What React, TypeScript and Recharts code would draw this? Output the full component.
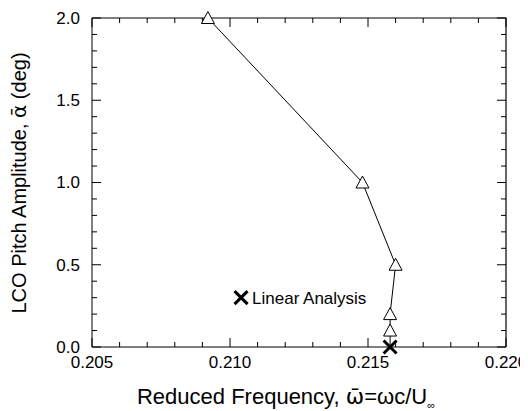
import React from 'react';
import { ComposedChart, Scatter, XAxis, YAxis } from 'recharts';

const lcoFreq = [0.2092, 0.2148, 0.216, 0.2158, 0.2158];
const lcoAmp = [2.0, 1.0, 0.5, 0.2, 0.1];
const linearFreq = [0.2158];
const linearAmp = [0.0];
const legendFreq = [0.2104];
const legendAmp = [0.3];
const legendText = 'Linear Analysis';

const X_MIN = 0.205;
const X_MAX = 0.22;
const Y_MIN = 0;
const Y_MAX = 2;
const xMajorTicks = [0.205, 0.21, 0.215, 0.22];
const xAllTicks = [0.205, 0.206, 0.207, 0.208, 0.209, 0.21, 0.211, 0.212, 0.213, 0.214, 0.215, 0.216, 0.217, 0.218, 0.219, 0.22];
const yMajorTicks = [0, 0.5, 1.0, 1.5, 2.0];
const yAllTicks = [0, 0.1, 0.2, 0.3, 0.4, 0.5, 0.6, 0.7, 0.8, 0.9, 1.0, 1.1, 1.2, 1.3, 1.4, 1.5, 1.6, 1.7, 1.8, 1.9, 2.0];

const FONT = '"Liberation Sans", Arial, Helvetica, sans-serif';
const MARK_FONT = '"DejaVu Sans", sans-serif';

const triangleData = lcoFreq.map((f, i) => ({ x: f, y: lcoAmp[i] }));
const linearData = linearFreq.map((f, i) => ({ x: f, y: linearAmp[i] }));
const pathData = [...triangleData, ...linearData];
const legendData = legendFreq.map((f, i) => ({ x: f, y: legendAmp[i], label: legendText }));

const bottomTickPts = xAllTicks.map((v) => ({ x: v, y: Y_MIN, major: Math.round(v * 1000) % 5 === 0 }));
const topTickPts = xAllTicks.map((v) => ({ x: v, y: Y_MAX, major: Math.round(v * 1000) % 5 === 0 }));
const leftTickPts = yAllTicks.map((v) => ({ x: X_MIN, y: v, major: Math.round(v * 10) % 5 === 0 }));
const rightTickPts = yAllTicks.map((v) => ({ x: X_MAX, y: v, major: Math.round(v * 10) % 5 === 0 }));
const framePts = [
  { x: X_MIN, y: Y_MAX },
  { x: X_MAX, y: Y_MAX },
  { x: X_MAX, y: Y_MIN },
];

const MAJOR_LEN = 9;
const MINOR_LEN = 5;

const makeTick = (dx: number, dy: number) => (props: any) => {
  const { cx, cy, payload } = props;
  if (cx == null || cy == null) return <g />;
  const len = payload && payload.major ? MAJOR_LEN : MINOR_LEN;
  return (
    <path
      d={`M${cx},${cy} L${cx + dx * len},${cy + dy * len}`}
      stroke="#000"
      strokeWidth={1}
      fill="none"
    />
  );
};
const BottomTickShape = makeTick(0, -1);
const TopTickShape = makeTick(0, 1);
const LeftTickShape = makeTick(1, 0);
const RightTickShape = makeTick(-1, 0);

const BottomLabel = (props: any) => {
  const { x, y, payload } = props;
  return (
    <text x={x} y={y + 21} textAnchor="middle" fontSize={17} fontFamily={FONT} fill="#000">
      {payload.value.toFixed(3)}
    </text>
  );
};

const LeftLabel = (props: any) => {
  const { x, y, payload } = props;
  return (
    <text x={x - 12} y={y} dy="0.35em" textAnchor="end" fontSize={17} fontFamily={FONT} fill="#000">
      {payload.value.toFixed(1)}
    </text>
  );
};

const Triangle = (props: any) => {
  const { cx, cy } = props;
  if (cx == null || cy == null) return <g />;
  return (
    <path
      d={`M${cx},${cy - 6.5} L${cx + 6.5},${cy + 5.5} L${cx - 6.5},${cy + 5.5} Z`}
      fill="#fff"
      stroke="#000"
      strokeWidth={1}
    />
  );
};

const crossPath = (cx: number, cy: number, s: number) =>
  `M${cx - s},${cy - s} L${cx + s},${cy + s} M${cx - s},${cy + s} L${cx + s},${cy - s}`;

const Cross = (props: any) => {
  const { cx, cy } = props;
  if (cx == null || cy == null) return <g />;
  return <path d={crossPath(cx, cy, 6.5)} stroke="#000" strokeWidth={3} fill="none" />;
};

const LegendMark = (props: any) => {
  const { cx, cy, payload } = props;
  if (cx == null || cy == null) return <g />;
  return (
    <g>
      <path d={crossPath(cx, cy, 6.5)} stroke="#000" strokeWidth={3} fill="none" />
      <text x={cx + 11} y={cy + 6} fontSize={17} fontFamily={FONT} fill="#000">
        {payload.label}
      </text>
    </g>
  );
};

const Empty = () => <g />;

const XTitle = (props: any) => {
  const { viewBox } = props;
  const x = viewBox.x + 194;
  const y = viewBox.y + 57;
  return (
    <text x={x} y={y} textAnchor="middle" fontSize={22} fontFamily={FONT} fill="#000">
      {'Reduced Frequency, '}
      <tspan fontFamily={MARK_FONT}>{'\u03c9\u0304'}</tspan>
      {'=\u03c9c/U'}
      <tspan fontSize={11} dy={5}>{'\u221e'}</tspan>
    </text>
  );
};

const YTitle = (props: any) => {
  const { viewBox } = props;
  const x = viewBox.x + 18;
  const y = viewBox.y + 165;
  return (
    <text
      x={x}
      y={y}
      textAnchor="middle"
      fontSize={20}
      fontFamily={FONT}
      fill="#000"
      transform={`rotate(-90, ${x}, ${y})`}
    >
      {'LCO Pitch Amplitude, '}
      <tspan fontFamily={MARK_FONT}>{'\u03b1\u0304'}</tspan>
      {' (deg)'}
    </text>
  );
};

export default function App() {
  return (
    <div style={{ width: 520, height: 403, background: '#fff' }}>
      <ComposedChart width={520} height={403} margin={{ top: 10, right: 22, bottom: 0, left: 0 }}>
        <XAxis
          xAxisId="b"
          orientation="bottom"
          type="number"
          dataKey="x"
          domain={[X_MIN, X_MAX]}
          ticks={xMajorTicks}
          interval={0}
          tickSize={0}
          tickMargin={0}
          tickLine={false}
          tick={<BottomLabel />}
          axisLine={{ stroke: '#000', strokeWidth: 1 }}
          height={64}
          label={<XTitle />}
        />
        <YAxis
          yAxisId="l"
          orientation="left"
          type="number"
          dataKey="y"
          domain={[Y_MIN, Y_MAX]}
          ticks={yMajorTicks}
          interval={0}
          tickSize={0}
          tickMargin={0}
          tickLine={false}
          tick={<LeftLabel />}
          axisLine={{ stroke: '#000', strokeWidth: 1 }}
          width={84}
          label={<YTitle />}
        />
        <Scatter
          xAxisId="b"
          yAxisId="l"
          data={framePts}
          line={{ stroke: '#000', strokeWidth: 1.2 }}
          shape={<Empty />}
          isAnimationActive={false}
        />
        <Scatter xAxisId="b" yAxisId="l" data={bottomTickPts} shape={<BottomTickShape />} isAnimationActive={false} />
        <Scatter xAxisId="b" yAxisId="l" data={topTickPts} shape={<TopTickShape />} isAnimationActive={false} />
        <Scatter xAxisId="b" yAxisId="l" data={leftTickPts} shape={<LeftTickShape />} isAnimationActive={false} />
        <Scatter xAxisId="b" yAxisId="l" data={rightTickPts} shape={<RightTickShape />} isAnimationActive={false} />
        <Scatter
          xAxisId="b"
          yAxisId="l"
          data={pathData}
          line={{ stroke: '#000', strokeWidth: 1 }}
          shape={<Empty />}
          isAnimationActive={false}
        />
        <Scatter xAxisId="b" yAxisId="l" data={linearData} shape={<Cross />} isAnimationActive={false} />
        <Scatter xAxisId="b" yAxisId="l" data={triangleData} shape={<Triangle />} isAnimationActive={false} />
        <Scatter xAxisId="b" yAxisId="l" data={legendData} shape={<LegendMark />} isAnimationActive={false} />
      </ComposedChart>
    </div>
  );
}
